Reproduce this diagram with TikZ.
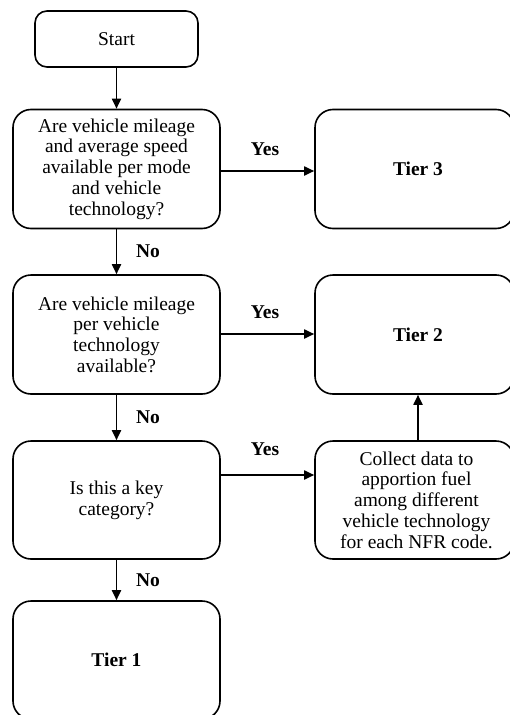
\documentclass[tikz,border=0pt]{standalone}
\usepackage{fontspec}
\setmainfont{Liberation Serif}
\usetikzlibrary{arrows.meta}
\begin{document}
\begin{tikzpicture}[x=1pt,y=-1pt,
  box/.style={draw, line width=1.6pt, rounded corners=18pt, align=center, inner sep=0pt,
    font=\fontsize{19.5}{20.7}\selectfont},
  arr/.style={line width=1.8pt, -{Triangle[length=10pt,width=9pt]}},
  lbl/.style={font=\fontsize{19.5}{20}\selectfont\bfseries, inner sep=0pt}]
\useasboundingbox (0,0) rectangle (510,715);
\node[box, rounded corners=12pt, minimum width=163pt, minimum height=56pt] (start) at (116.5,39) {Start};
\node[box, minimum width=207pt, minimum height=119pt] (q1) at (116.5,169) {Are vehicle mileage\\and average speed\\available per mode\\and vehicle\\technology?};
\node[box, minimum width=199pt, minimum height=119pt] (t3) at (414.5,169) {\hspace*{7pt}\textbf{Tier 3}};
\node[box, minimum width=207pt, minimum height=119pt] (q2) at (116.5,334.5) {Are vehicle mileage\\per vehicle\\technology\\available?};
\node[box, minimum width=199pt, minimum height=119pt] (t2) at (414.5,334.5) {\hspace*{7pt}\textbf{Tier 2}};
\node[box, minimum width=207pt, minimum height=118pt] (q3) at (116.5,500) {Is this a key\\category?};
\node[box, minimum width=199pt, minimum height=118pt] (col) at (414.5,500) {\hspace*{4pt}Collect data to\\\hspace*{4pt}apportion fuel\\\hspace*{4pt}among different\\\hspace*{4pt}vehicle technology\\\hspace*{4pt}for each NFR code.};
\node[box, minimum width=207pt, minimum height=118pt] (t1) at (116.5,660) {\textbf{Tier 1}};
\draw[arr] (start) -- (q1);
\draw[arr] (q1.east |- 0,171) -- (t3.west |- 0,171);
\draw[arr] (q1) -- (q2);
\draw[arr] (q2.east |- 0,334) -- (t2.west |- 0,334);
\draw[arr] (q2) -- (q3);
\draw[arr] (q3.east |- 0,475) -- (col.west |- 0,475);
\draw[arr] (col.north -| 418,0) -- (t2.south -| 418,0);
\draw[arr] (q3) -- (t1);
\node[lbl] (y1) at (265,149) {Yes};
\node[lbl] (y2) at (265,312) {Yes};
\node[lbl] (y3) at (265,449) {Yes};
\node[lbl] (n1) at (148,251) {No};
\node[lbl] (n2) at (148,417) {No};
\node[lbl] (n3) at (148,580) {No};
\end{tikzpicture}
\end{document}
